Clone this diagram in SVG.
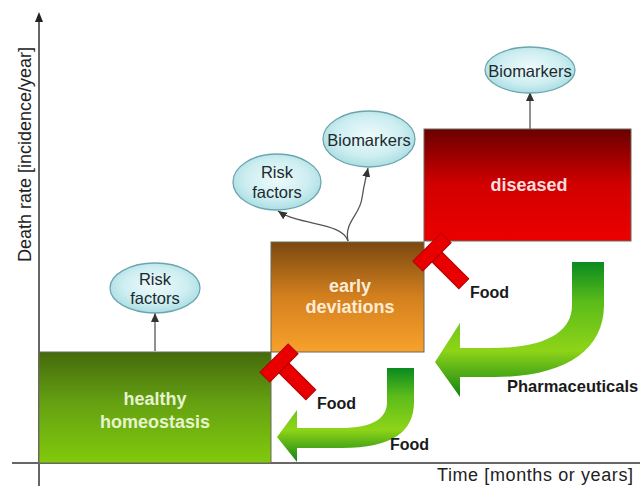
<svg xmlns="http://www.w3.org/2000/svg" width="640" height="486" viewBox="0 0 640 486">
<defs>
<linearGradient id="gHealthy" x1="0" y1="0" x2="0" y2="1">
<stop offset="0" stop-color="#456a0c"/><stop offset="0.45" stop-color="#64a012"/><stop offset="1" stop-color="#82ca0c"/>
</linearGradient>
<linearGradient id="gEarly" x1="0" y1="0" x2="0" y2="1">
<stop offset="0" stop-color="#7a4810"/><stop offset="0.5" stop-color="#d4801e"/><stop offset="1" stop-color="#f8a12c"/>
</linearGradient>
<linearGradient id="gDis" x1="0" y1="0" x2="0" y2="1">
<stop offset="0" stop-color="#6a0000"/><stop offset="0.5" stop-color="#d20000"/><stop offset="1" stop-color="#ec0000"/>
</linearGradient>
<radialGradient id="gEll" cx="0.5" cy="0.45" r="0.6">
<stop offset="0" stop-color="#eefafb"/><stop offset="0.6" stop-color="#cdeef1"/><stop offset="1" stop-color="#a2d9e0"/>
</radialGradient>
<linearGradient id="gArrBig" gradientUnits="userSpaceOnUse" x1="0" y1="262" x2="0" y2="398">
<stop offset="0" stop-color="#0a8a20"/><stop offset="0.3" stop-color="#5cbc1a"/><stop offset="0.65" stop-color="#8ed418"/><stop offset="1" stop-color="#0f8016"/>
</linearGradient>
<linearGradient id="gArrSmall" gradientUnits="userSpaceOnUse" x1="0" y1="368" x2="0" y2="463">
<stop offset="0" stop-color="#0a8a20"/><stop offset="0.3" stop-color="#5cbc1a"/><stop offset="0.65" stop-color="#8ed418"/><stop offset="1" stop-color="#0f8016"/>
</linearGradient>
<marker id="ah" markerUnits="userSpaceOnUse" markerWidth="10" markerHeight="10" viewBox="0 0 10 10" refX="9" refY="5" orient="auto">
<path d="M0,1 L9,5 L0,9 Z" fill="#333"/>
</marker>
<g id="blocker">
<rect x="-20" y="-7" width="40" height="14" fill="#e80000" stroke="#b40000" stroke-width="1"/>
<rect x="-7" y="7" width="14" height="38" fill="#e80000" stroke="#b40000" stroke-width="1"/>
</g>
</defs>
<style>
.box{stroke:#6a6a5a;stroke-width:1}
.ell{fill:url(#gEll);stroke:#6aa6ad;stroke-width:1.3}
.et{font-family:"Liberation Sans",Arial,sans-serif;font-size:16.5px;fill:#1c2a30;text-anchor:middle}
.bt{font-family:"Liberation Sans",Arial,sans-serif;font-size:18px;font-weight:bold;text-anchor:middle}
.lab{font-family:"Liberation Sans",Arial,sans-serif;font-size:16px;font-weight:bold;fill:#1a1a1a}
.ax{font-family:"Liberation Sans",Arial,sans-serif;font-size:18px;fill:#222}
.con{fill:none;stroke:#555;stroke-width:1.3}
</style>
<rect width="640" height="486" fill="#ffffff"/>

<g id="axes">
<line x1="39" y1="486" x2="39" y2="20" stroke="#666" stroke-width="2"/>
<polygon points="39,12 35,22 43,22" fill="#222"/>
<line x1="12" y1="463" x2="640" y2="463" stroke="#666" stroke-width="2"/>
<text class="ax" transform="translate(31,262) rotate(-90)" textLength="215">Death rate [incidence/year]</text>
<text class="ax" x="437" y="481" textLength="196">Time [months or years]</text>
</g>

<g id="connectors">
<line class="con" x1="155" y1="351" x2="155" y2="313" marker-end="url(#ah)"/>
<line class="con" x1="530" y1="154" x2="530" y2="92" marker-end="url(#ah)"/>
<path class="con" d="M348,241 C342,222 300,226 278,211" marker-end="url(#ah)"/>
<path class="con" d="M348,241 C344,222 360,215 362,198 C364,184 366,178 368,168" marker-end="url(#ah)"/>
</g>

<g id="healthy">
<rect class="box" x="39" y="352" width="232" height="111" fill="url(#gHealthy)"/>
<text class="bt" x="155" y="405" fill="#e6f3cf">healthy</text>
<text class="bt" x="155" y="428" fill="#e6f3cf">homeostasis</text>
</g>

<g id="early">
<rect class="box" x="271" y="242" width="153" height="110" fill="url(#gEarly)"/>
<text class="bt" x="350" y="292" fill="#fcecd6">early</text>
<text class="bt" x="350" y="313" fill="#fcecd6">deviations</text>
</g>

<g id="diseased">
<rect class="box" x="424" y="129" width="207" height="112" fill="url(#gDis)"/>
<text class="bt" x="529" y="191" fill="#f8dede">diseased</text>
</g>

<g id="risk1">
<ellipse class="ell" cx="155" cy="288" rx="45" ry="25"/>
<text class="et" x="155" y="285">Risk</text>
<text class="et" x="155" y="304">factors</text>
</g>

<g id="risk2">
<ellipse class="ell" cx="277" cy="182" rx="44" ry="28"/>
<text class="et" x="277" y="178">Risk</text>
<text class="et" x="277" y="198">factors</text>
</g>

<g id="bio1">
<ellipse class="ell" cx="369" cy="139" rx="46" ry="28"/>
<text class="et" x="369" y="146">Biomarkers</text>
</g>

<g id="bio2">
<ellipse class="ell" cx="530" cy="70" rx="45" ry="23"/>
<text class="et" x="530" y="77">Biomarkers</text>
</g>

<g id="block1">
<use href="#blocker" transform="translate(279,363) rotate(-45)"/>
<text class="lab" x="317" y="409">Food</text>
</g>

<g id="block2">
<use href="#blocker" transform="translate(432,252) rotate(-45)"/>
<text class="lab" x="470" y="298">Food</text>
</g>

<g id="arrowSmall">
<path d="M387,368 L414,368 L414,402 C414,432 392,448 342,448 L297,448 L297,462 L277,437 L297,410 L297,428 L340,428 C374,428 387,418 387,402 Z" fill="url(#gArrSmall)"/>
<text class="lab" x="390" y="450">Food</text>
</g>

<g id="arrowBig">
<path d="M572,262 L604,262 L604,305 C604,352 562,377 495,377 L460,377 L460,397 L435,362 L460,323 L460,348 L492,348 C546,348 572,332 572,305 Z" fill="url(#gArrBig)"/>
<text class="lab" x="507" y="392" style="font-size:16.5px">Pharmaceuticals</text>
</g>
</svg>
